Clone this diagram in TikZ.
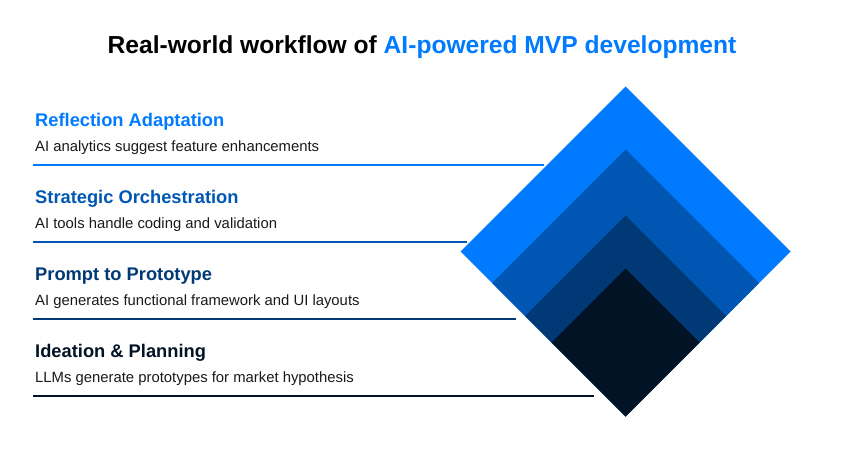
\documentclass[tikz,border=0pt]{standalone}
\usepackage{fontspec}
\setmainfont{Liberation Sans}
\usepackage{tikz}
\usetikzlibrary{calc}

\definecolor{stepA}{RGB}{0,122,255}
\definecolor{stepB}{RGB}{0,86,179}
\definecolor{stepC}{RGB}{0,57,117}
\definecolor{stepD}{RGB}{1,19,36}
\definecolor{bodytext}{RGB}{25,25,25}

\begin{document}
\begin{tikzpicture}[x=1pt,y=-1pt,
    heading/.style={anchor=base west, inner sep=0pt, font=\fontsize{18.3}{21}\selectfont\bfseries},
    blurb/.style={anchor=base west, inner sep=0pt, text=bodytext, font=\fontsize{14.85}{17}\selectfont},
    rule/.style={line width=2pt}]
      \useasboundingbox (0,0) rectangle (843,448);

      % 1. 標題
      \node[anchor=base, inner sep=0pt, font=\fontsize{24.6}{28}\selectfont\bfseries] (title) at (422,53)
        {Real-world workflow of \textcolor{stepA}{AI-powered MVP development}};

      % 2. 菱形的共同底點
      \coordinate (bot) at (625.7,416.5);

      % 3. 由大到小疊四個菱形
      \foreach \h/\c in {165/stepA, 133.5/stepB, 100.5/stepC, 74/stepD}
        \fill[\c] ($(bot)+(0,-2*\h)$) -- ($(bot)+(-\h,-\h)$) -- (bot) -- ($(bot)+(\h,-\h)$) -- cycle;

      % 4. 左邊四段文字
      \node[heading, text=stepA] (head_1) at (35,126.5) {Reflection Adaptation};
      \node[blurb] (blurb_1) at (35,151) {AI analytics suggest feature enhancements};
      \node[heading, text=stepB] (head_2) at (35,203.5) {Strategic Orchestration};
      \node[blurb] (blurb_2) at (35,228) {AI tools handle coding and validation};
      \node[heading, text=stepC] (head_3) at (35,280.5) {Prompt to Prototype};
      \node[blurb] (blurb_3) at (35,305) {AI generates functional framework and UI layouts};
      \node[heading, text=stepD] (head_4) at (35,357.5) {Ideation \& Planning};
      \node[blurb] (blurb_4) at (35,382) {LLMs generate prototypes for market hypothesis};

      % 5. 底線的端點
      \coordinate (r_1s) at (33,164.5);  \coordinate (r_1e) at (544,164.5);
      \coordinate (r_2s) at (33,241.5);  \coordinate (r_2e) at (466.5,241.5);
      \coordinate (r_3s) at (33,318.5);  \coordinate (r_3e) at (515.5,318.5);
      \coordinate (r_4s) at (33,395.5);  \coordinate (r_4e) at (594,395.5);

      % 6. 繪製底線
      \draw[rule, stepA] (r_1s) -- (r_1e);
      \draw[rule, stepB] (r_2s) -- (r_2e);
      \draw[rule, stepC] (r_3s) -- (r_3e);
      \draw[rule, stepD] (r_4s) -- (r_4e);
    \end{tikzpicture}
\end{document}
